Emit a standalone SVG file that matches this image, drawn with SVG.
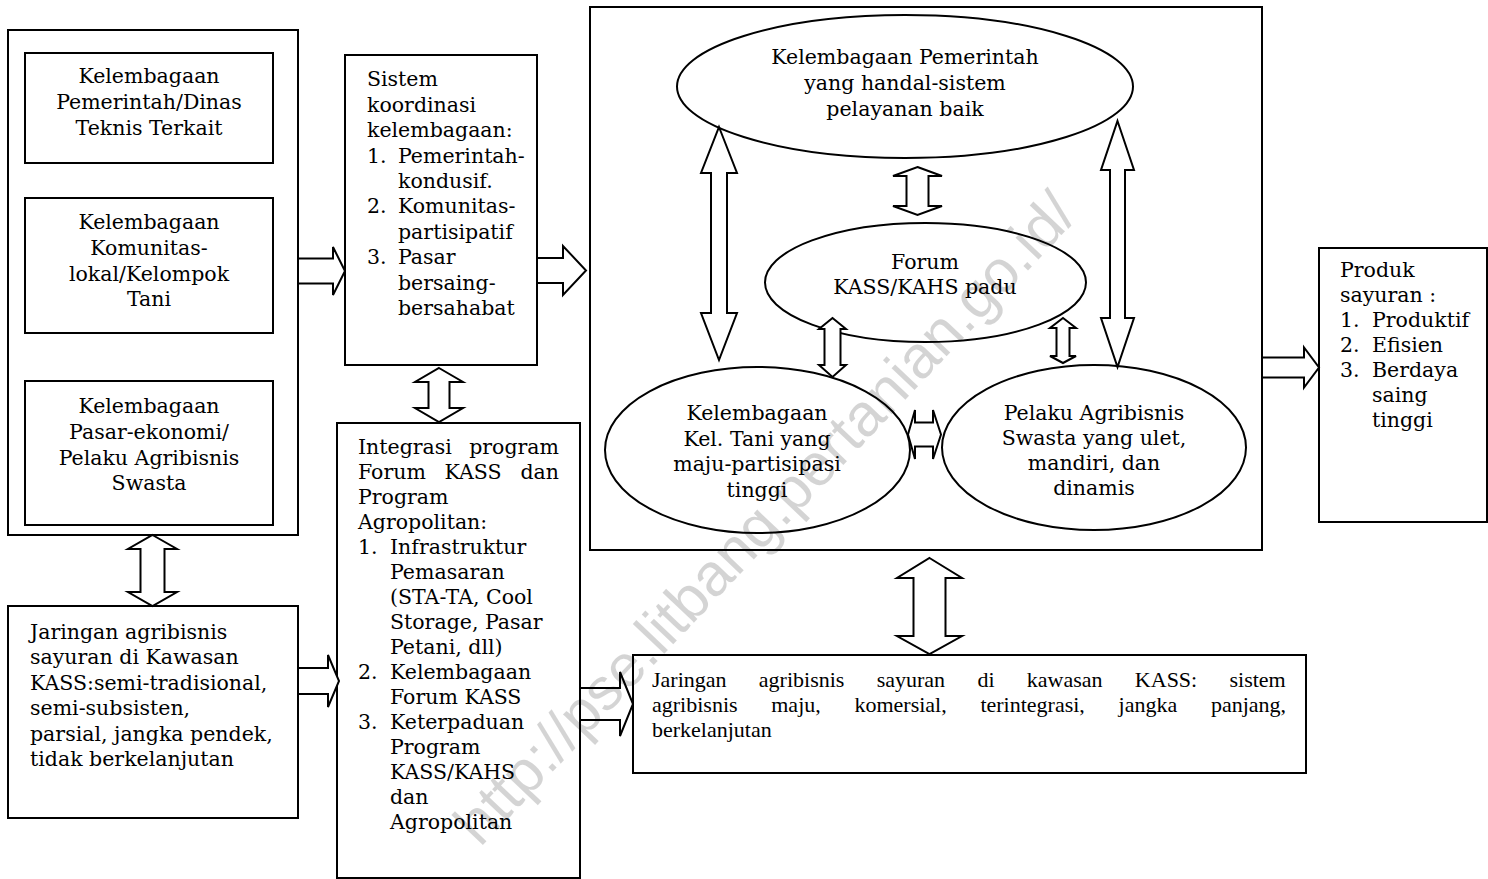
<svg xmlns="http://www.w3.org/2000/svg" width="1488" height="879" viewBox="0 0 1488 879">
  <style>
    .box { fill: #fff; stroke: #000; stroke-width: 2; }
    .ell { fill: #fff; stroke: #000; stroke-width: 2; }
    .arr { fill: #fff; stroke: #000; stroke-width: 2; stroke-linejoin: miter; }
    .t { font-family: "DejaVu Serif", "Liberation Serif", serif; font-size: 20.5px; fill: #000; }
    .c { text-anchor: middle; }
    .e { text-anchor: end; }
    .tn { font-family: "Liberation Serif", "Times New Roman", serif; font-size: 22px; fill: #000; }
    .wm { font-family: "Liberation Sans", Arial, sans-serif; font-size: 60px; fill: #000; fill-opacity: 0.17; }
  </style>
  <rect width="1488" height="879" fill="#fff"/>

  <!-- left column: institutions -->
  <g id="kelembagaan-group">
    <rect class="box" x="8" y="30" width="290" height="505"/>
  </g>
  <g id="pemerintah">
    <rect class="box" x="25" y="53" width="248" height="110"/>
    <text class="t c" x="149" y="83">Kelembagaan</text>
    <text class="t c" x="149" y="109">Pemerintah/Dinas</text>
    <text class="t c" x="149" y="135">Teknis Terkait</text>
  </g>
  <g id="komunitas">
    <rect class="box" x="25" y="198" width="248" height="135"/>
    <text class="t c" x="149" y="229">Kelembagaan</text>
    <text class="t c" x="149" y="255">Komunitas-</text>
    <text class="t c" x="149" y="281">lokal/Kelompok</text>
    <text class="t c" x="149" y="306">Tani</text>
  </g>
  <g id="pasar">
    <rect class="box" x="25" y="381" width="248" height="144"/>
    <text class="t c" x="149" y="413">Kelembagaan</text>
    <text class="t c" x="149" y="439">Pasar-ekonomi/</text>
    <text class="t c" x="149" y="465">Pelaku Agribisnis</text>
    <text class="t c" x="149" y="490">Swasta</text>
  </g>

  <!-- current agribusiness network -->
  <g id="jaringan-awal">
    <rect class="box" x="8" y="606" width="290" height="212"/>
    <text class="t" x="30" y="639">Jaringan agribisnis</text>
    <text class="t" x="30" y="664">sayuran di Kawasan</text>
    <text class="t" x="30" y="690">KASS:semi-tradisional,</text>
    <text class="t" x="30" y="715">semi-subsisten,</text>
    <text class="t" x="30" y="741">parsial, jangka pendek,</text>
    <text class="t" x="30" y="766">tidak berkelanjutan</text>
  </g>

  <!-- coordination system -->
  <g id="sistem-koordinasi">
    <rect class="box" x="345" y="55" width="192" height="310"/>
    <text class="t" x="367" y="86">Sistem</text>
    <text class="t" x="367" y="112">koordinasi</text>
    <text class="t" x="367" y="137">kelembagaan:</text>
    <text class="t" x="367" y="163">1.</text><text class="t" x="398" y="163">Pemerintah-</text>
    <text class="t" x="398" y="188">kondusif.</text>
    <text class="t" x="367" y="213">2.</text><text class="t" x="398" y="213">Komunitas-</text>
    <text class="t" x="398" y="239">partisipatif</text>
    <text class="t" x="367" y="264">3.</text><text class="t" x="398" y="264">Pasar</text>
    <text class="t" x="398" y="290">bersaing-</text>
    <text class="t" x="398" y="315">bersahabat</text>
  </g>

  <!-- program integration -->
  <g id="integrasi-program">
    <rect class="box" x="337" y="423" width="243" height="455"/>
    <text class="t" x="358" y="454">Integrasi</text><text class="t e" x="559" y="454">program</text>
    <text class="t" x="358" y="479">Forum</text><text class="t c" x="473" y="479">KASS</text><text class="t e" x="559" y="479">dan</text>
    <text class="t" x="358" y="504">Program</text>
    <text class="t" x="358" y="529">Agropolitan:</text>
    <text class="t" x="358" y="554">1.</text><text class="t" x="390" y="554">Infrastruktur</text>
    <text class="t" x="390" y="579">Pemasaran</text>
    <text class="t" x="390" y="604">(STA-TA, Cool</text>
    <text class="t" x="390" y="629">Storage, Pasar</text>
    <text class="t" x="390" y="654">Petani, dll)</text>
    <text class="t" x="358" y="679">2.</text><text class="t" x="390" y="679">Kelembagaan</text>
    <text class="t" x="390" y="704">Forum KASS</text>
    <text class="t" x="358" y="729">3.</text><text class="t" x="390" y="729">Keterpaduan</text>
    <text class="t" x="390" y="754">Program</text>
    <text class="t" x="390" y="779">KASS/KAHS</text>
    <text class="t" x="390" y="804">dan</text>
    <text class="t" x="390" y="829">Agropolitan</text>
  </g>

  <!-- target institutional model -->
  <g id="model-kelembagaan">
    <rect class="box" x="590" y="7" width="672" height="543"/>
  </g>
  <g id="pemerintah-handal">
    <ellipse class="ell" cx="905" cy="86.5" rx="228" ry="71.5"/>
    <text class="t c" x="905" y="64">Kelembagaan Pemerintah</text>
    <text class="t c" x="905" y="90">yang handal-sistem</text>
    <text class="t c" x="905" y="116">pelayanan baik</text>
  </g>
  <g id="forum-kass">
    <ellipse class="ell" cx="925.5" cy="282.5" rx="160.5" ry="59.5"/>
    <text class="t c" x="925" y="269">Forum</text>
    <text class="t c" x="925" y="294">KASS/KAHS padu</text>
  </g>
  <g id="kelompok-tani">
    <ellipse class="ell" cx="757.5" cy="450" rx="152.5" ry="83"/>
    <text class="t c" x="757" y="420">Kelembagaan</text>
    <text class="t c" x="757" y="446">Kel. Tani yang</text>
    <text class="t c" x="757" y="471">maju-partisipasi</text>
    <text class="t c" x="757" y="497">tinggi</text>
  </g>
  <g id="pelaku-swasta">
    <ellipse class="ell" cx="1094" cy="447.5" rx="152" ry="82.5"/>
    <text class="t c" x="1094" y="420">Pelaku Agribisnis</text>
    <text class="t c" x="1094" y="445">Swasta yang ulet,</text>
    <text class="t c" x="1094" y="470">mandiri, dan</text>
    <text class="t c" x="1094" y="495">dinamis</text>
  </g>

  <!-- target agribusiness network -->
  <g id="jaringan-maju">
    <rect class="box" x="633" y="655" width="673" height="118"/>
    <text class="tn" x="652" y="687" word-spacing="26.8">Jaringan agribisnis sayuran di kawasan KASS: sistem</text>
    <text class="tn" x="652" y="712" word-spacing="28.2">agribisnis maju, komersial, terintegrasi, jangka panjang,</text>
    <text class="tn" x="652" y="737">berkelanjutan</text>
  </g>

  <!-- outcome -->
  <g id="produk-sayuran">
    <rect class="box" x="1319" y="248" width="168" height="274"/>
    <text class="t" x="1340" y="277">Produk</text>
    <text class="t" x="1340" y="302">sayuran :</text>
    <text class="t" x="1340" y="327">1.</text><text class="t" x="1372" y="327">Produktif</text>
    <text class="t" x="1340" y="352">2.</text><text class="t" x="1372" y="352">Efisien</text>
    <text class="t" x="1340" y="377">3.</text><text class="t" x="1372" y="377">Berdaya</text>
    <text class="t" x="1372" y="402">saing</text>
    <text class="t" x="1372" y="427">tinggi</text>
  </g>

  <!-- block arrows -->
  <g id="connectors">
    <polygon class="arr" points="152.5,535 177,549 164.5,549 164.5,592 177,592 152.5,606 128,592 140.5,592 140.5,549 128,549"/>
    <polygon class="arr" points="439,368 463,382 449.5,382 449.5,408 463,408 439,422 415,408 428.5,408 428.5,382 415,382"/>
    <polygon class="arr" points="719,127 737,173 727,173 727,313 737,313 719,360 701,313 711,313 711,173 701,173"/>
    <polygon class="arr" points="1117.5,121 1134,170 1125,170 1125,318 1134,318 1117.5,367 1101,318 1110,318 1110,170 1101,170"/>
    <polygon class="arr" points="917.5,167 942,176 928.5,176 928.5,206 942,206 917.5,215 893,206 906.5,206 906.5,176 893,176"/>
    <polygon class="arr" points="832.5,318 846,329 840.5,329 840.5,365 846,365 832.5,377 819,365 824.5,365 824.5,329 819,329"/>
    <polygon class="arr" points="1063,318 1076,328 1069.5,328 1069.5,356 1076,356 1063,363 1050,356 1056.5,356 1056.5,328 1050,328"/>
    <polygon class="arr" points="929.5,558 962,578 945.5,578 945.5,636 962,636 929.5,654 897,636 913.5,636 913.5,578 897,578"/>
    <polygon class="arr" points="908,434.5 915,410 915,422.5 933,422.5 933,410 941,434.5 933,459 933,446.5 915,446.5 915,459"/>
    <polygon class="arr" points="298,258.5 333,258.5 333,247 345,271 333,295 333,283.5 298,283.5"/>
    <polygon class="arr" points="537,258 563,258 563,246 586,270.5 563,295 563,283 537,283"/>
    <polygon class="arr" points="298,668 328,668 328,655 339,681 328,707 328,694 298,694"/>
    <polygon class="arr" points="580,688 620,688 620,672 633,704 620,736 620,720 580,720"/>
    <polygon class="arr" points="1262,357.5 1304,357.5 1304,347.5 1319,367.5 1304,387.5 1304,377.5 1262,377.5"/>
  </g>

  <!-- source watermark -->
  <text class="wm" transform="translate(480,848) rotate(-46.5)">http://pse.litbang.pertanian.go.id/</text>
</svg>
